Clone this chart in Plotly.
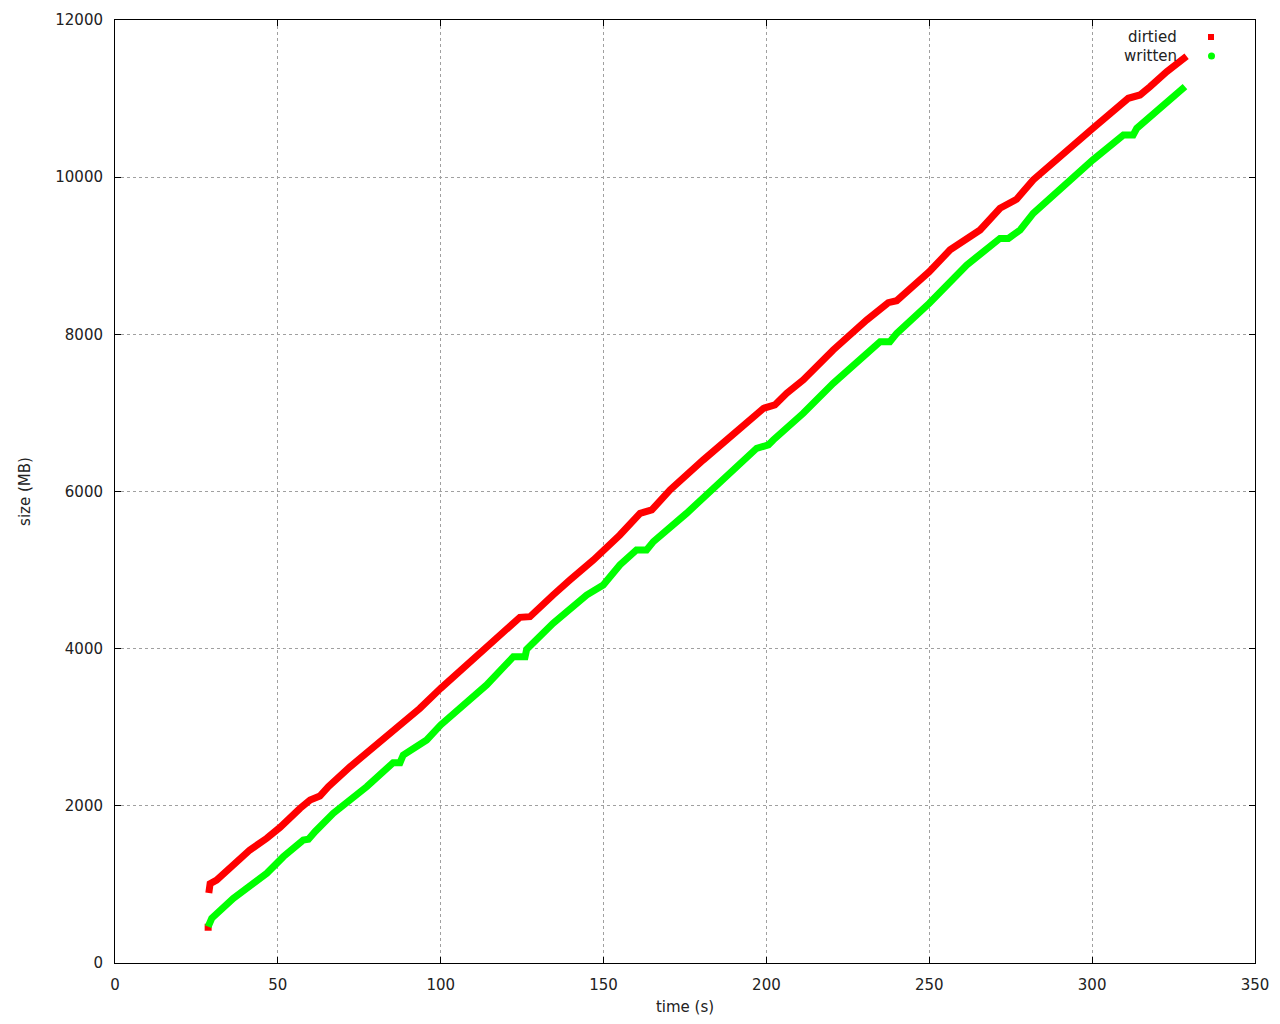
import plotly.graph_objects as go

# dirtied (red)
dirtied_t = [28.6, 28.8, 29.2, 31.2, 36.3, 41.4, 46.6, 49.1, 50.7, 56.8, 59.9, 62.9, 65.5,
             72.2, 77.3, 82.4, 87.5, 93.6, 100.0, 109.0, 114.1, 119.2, 124.3, 127.4, 129.4,
             134.5, 139.7, 146.9, 155.0, 161.2, 164.8, 170.4, 180.6, 190.9, 199.1, 202.6,
             206.2, 211.3, 220.5, 230.8, 237.4, 240.0, 250.0, 256.4, 265.6, 271.7, 274.8,
             276.8, 281.9, 292.2, 300.2, 311.1, 314.7, 317.8, 322.9, 329.0]
dirtied_mb = [455, 890, 1010, 1056, 1247, 1438, 1587, 1658, 1727, 1968, 2074, 2125, 2244,
              2498, 2669, 2838, 3010, 3241, 3496, 3834, 4017, 4216, 4399, 4407, 4492,
              4683, 4874, 5128, 5447, 5723, 5765, 6019, 6401, 6761, 7059, 7101,
              7250, 7419, 7801, 8183, 8403, 8428, 8797, 9076, 9328, 9604, 9689,
              9719, 9965, 10346, 10622, 11004, 11046, 11152, 11343, 11540]

# written (green)
written_t = [28.6, 29.7, 36.3, 46.6, 51.7, 57.8, 59.4, 61.4, 67.0, 72.2, 77.3, 85.4, 87.5,
             88.5, 95.7, 100.0, 109.0, 114.1, 122.3, 125.9, 126.4, 134.5, 144.8, 149.9,
             155.0, 160.1, 163.2, 165.3, 175.5, 185.7, 197.0, 200.6, 202.1, 211.3, 220.5,
             234.9, 237.9, 240.0, 250.0, 261.5, 271.7, 274.3, 277.9, 281.9, 292.2, 300.2,
             309.6, 312.6, 313.7, 319.8, 328.5]
written_mb = [462, 569, 823, 1141, 1353, 1565, 1574, 1671, 1905, 2074, 2244, 2549, 2549,
              2647, 2838, 3029, 3347, 3538, 3898, 3898, 3992, 4323, 4683, 4810,
              5065, 5256, 5256, 5362, 5723, 6105, 6550, 6592, 6656, 6995, 7377,
              7907, 7907, 8013, 8395, 8882, 9221, 9221, 9328, 9540, 9922, 10219,
              10537, 10537, 10622, 10834, 11152]

x_ticks = [0, 50, 100, 150, 200, 250, 300, 350]
y_ticks = [0, 2000, 4000, 6000, 8000, 10000, 12000]
series_names = ["dirtied", "written"]
series_colors = ["#ff0000", "#00ff00"]

FONT = "DejaVu Sans"
TXT = "#222222"

fig = go.Figure()
# first dirtied sample sits apart from the rest (drawn as a lone point)
fig.add_trace(go.Scatter(x=dirtied_t[:1], y=dirtied_mb[:1], mode="markers",
                         marker=dict(symbol="square", size=7, color=series_colors[0]),
                         showlegend=False))
fig.add_trace(go.Scatter(x=dirtied_t[1:], y=dirtied_mb[1:], mode="lines", name=series_names[0],
                         line=dict(color=series_colors[0], width=7), showlegend=False))
fig.add_trace(go.Scatter(x=written_t, y=written_mb, mode="lines", name=series_names[1],
                         line=dict(color=series_colors[1], width=7), showlegend=False))

axis_common = dict(
    showline=True, linecolor="black", linewidth=1, mirror="ticks",
    ticks="inside", ticklen=6, tickcolor="black", tickwidth=1,
    showgrid=True, gridcolor="#a0a0a0", griddash="dot", gridwidth=1,
    zeroline=False, automargin=False,
    tickfont=dict(family=FONT, size=15, color=TXT),
)

fig.update_xaxes(range=[0, 350], tickvals=x_ticks, ticktext=[str(v) for v in x_ticks],
                 title=dict(text="time (s)", font=dict(family=FONT, size=15, color=TXT), standoff=17),
                 ticklabelstandoff=8, **axis_common)
fig.update_yaxes(range=[0, 12000], tickvals=y_ticks, ticktext=[str(v) for v in y_ticks],
                 title=dict(text="size (MB)", font=dict(family=FONT, size=15, color=TXT), standoff=21),
                 ticklabelstandoff=8, **axis_common)

# page has an 8px body margin; size the figure so the plot area lands at
# x 115..1255, y 20..963 of the 1280x1024 window
OFF = 8
W, H = 1280 - 2 * OFF, 1024 - 2 * OFF
ml, mt = 115 - OFF, 20 - OFF
mr = W - (1255 - OFF)
mb = H - (963 - OFF)
pw, ph = W - ml - mr, H - mt - mb

def px(xp):
    return (xp - OFF - ml) / pw

def py(yp):
    return 1 - (yp - OFF - mt) / ph

# gnuplot-style key: right-justified text, sample to the right
key_y = [37, 56]
for i, name in enumerate(series_names):
    fig.add_annotation(x=px(1179), y=py(key_y[i]), xref="paper", yref="paper",
                       text=name, showarrow=False, xanchor="right", yanchor="middle",
                       font=dict(family=FONT, size=15, color=TXT))
fig.add_shape(type="rect", xref="paper", yref="paper",
              x0=px(1208), x1=px(1214), y0=py(key_y[0] - 3), y1=py(key_y[0] + 3),
              fillcolor=series_colors[0], line=dict(width=0))
fig.add_shape(type="circle", xref="paper", yref="paper",
              x0=px(1208), x1=px(1215), y0=py(key_y[1] - 3.5), y1=py(key_y[1] + 3.5),
              fillcolor=series_colors[1], line=dict(width=0))

fig.update_layout(
    width=W, height=H,
    margin=dict(l=ml, r=mr, t=mt, b=mb, autoexpand=False),
    paper_bgcolor="white", plot_bgcolor="white",
    showlegend=False,
)

fig.write_html("out.html")
